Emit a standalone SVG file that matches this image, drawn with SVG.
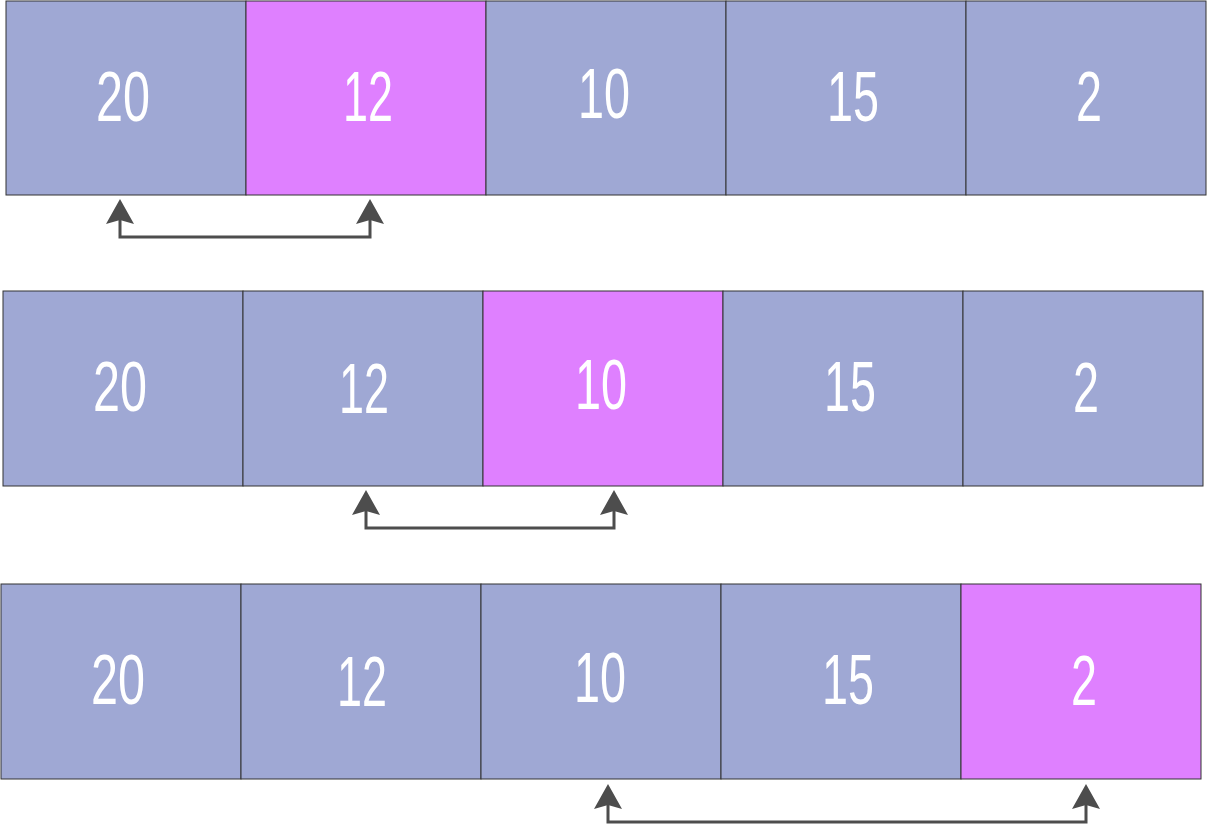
<svg xmlns="http://www.w3.org/2000/svg" width="1207" height="837" viewBox="0 0 1207 837">
<style>
.cell{fill:#9fa8d4;stroke:#333;stroke-width:1}
.hl{fill:#df80ff;stroke:#333;stroke-width:1}
.t{font-family:"Liberation Sans",Arial,sans-serif;font-size:70px;fill:#fff;text-anchor:middle}
.con{fill:none;stroke:#4d4d4d;stroke-width:3}
</style>
<defs>
<marker id="ah" markerUnits="userSpaceOnUse" viewBox="0 -15 27 30" markerWidth="27" markerHeight="30" refX="4" refY="0" orient="auto-start-reverse">
<path d="M25,0 L0,-14 L4,0 L0,14 Z" fill="#4d4d4d"/>
</marker>
</defs>
<g id="row1">
<g id="r1c1"><rect class="cell" x="6" y="1" width="240" height="194"/><text class="t" x="123" y="121" textLength="54" lengthAdjust="spacingAndGlyphs">20</text></g>
<g id="r1c2"><rect class="hl" x="246" y="1" width="240" height="194"/><text class="t" x="368" y="121" textLength="50" lengthAdjust="spacingAndGlyphs">12</text></g>
<g id="r1c3"><rect class="cell" x="486" y="1" width="240" height="194"/><text class="t" x="604" y="118" textLength="52" lengthAdjust="spacingAndGlyphs">10</text></g>
<g id="r1c4"><rect class="cell" x="726" y="1" width="240" height="194"/><text class="t" x="853" y="121" textLength="52" lengthAdjust="spacingAndGlyphs">15</text></g>
<g id="r1c5"><rect class="cell" x="966" y="1" width="240" height="194"/><text class="t" x="1089" y="121" textLength="26" lengthAdjust="spacingAndGlyphs">2</text></g>
</g>
<g id="row2">
<g id="r2c1"><rect class="cell" x="3" y="291" width="240" height="195"/><text class="t" x="120" y="411" textLength="54" lengthAdjust="spacingAndGlyphs">20</text></g>
<g id="r2c2"><rect class="cell" x="243" y="291" width="240" height="195"/><text class="t" x="364" y="413" textLength="50" lengthAdjust="spacingAndGlyphs">12</text></g>
<g id="r2c3"><rect class="hl" x="483" y="291" width="240" height="195"/><text class="t" x="601" y="409" textLength="52" lengthAdjust="spacingAndGlyphs">10</text></g>
<g id="r2c4"><rect class="cell" x="723" y="291" width="240" height="195"/><text class="t" x="850" y="411" textLength="52" lengthAdjust="spacingAndGlyphs">15</text></g>
<g id="r2c5"><rect class="cell" x="963" y="291" width="240" height="195"/><text class="t" x="1086" y="412" textLength="26" lengthAdjust="spacingAndGlyphs">2</text></g>
</g>
<g id="row3">
<g id="r3c1"><rect class="cell" x="1" y="584" width="240" height="195"/><text class="t" x="118" y="704" textLength="54" lengthAdjust="spacingAndGlyphs">20</text></g>
<g id="r3c2"><rect class="cell" x="241" y="584" width="240" height="195"/><text class="t" x="362" y="706" textLength="50" lengthAdjust="spacingAndGlyphs">12</text></g>
<g id="r3c3"><rect class="cell" x="481" y="584" width="240" height="195"/><text class="t" x="600" y="702" textLength="52" lengthAdjust="spacingAndGlyphs">10</text></g>
<g id="r3c4"><rect class="cell" x="721" y="584" width="240" height="195"/><text class="t" x="848" y="704" textLength="52" lengthAdjust="spacingAndGlyphs">15</text></g>
<g id="r3c5"><rect class="hl" x="961" y="584" width="240" height="195"/><text class="t" x="1084" y="705" textLength="26" lengthAdjust="spacingAndGlyphs">2</text></g>
</g>
<g id="connectors">
<path class="con" d="M120,220 V237 H370 V220" marker-start="url(#ah)" marker-end="url(#ah)"/>
<path class="con" d="M366,511 V528 H614 V511" marker-start="url(#ah)" marker-end="url(#ah)"/>
<path class="con" d="M608,805 V822 H1086 V805" marker-start="url(#ah)" marker-end="url(#ah)"/>
</g>
</svg>
